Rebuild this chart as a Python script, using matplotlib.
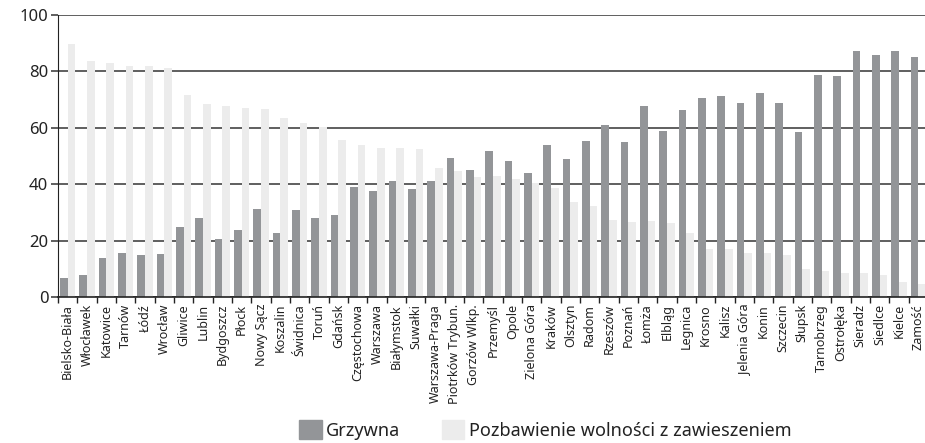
import numpy as np
import matplotlib.pyplot as plt
from matplotlib.patches import Patch

plt.rcParams['font.family'] = ['Noto Sans', 'DejaVu Sans']

# Data (percent)
cities = ['Bielsko-Biała', 'Włocławek', 'Katowice', 'Tarnów', 'Łódź', 'Wrocław',
          'Gliwice', 'Lublin', 'Bydgoszcz', 'Płock', 'Nowy Sącz', 'Koszalin',
          'Świdnica', 'Toruń', 'Gdańsk', 'Częstochowa', 'Warszawa', 'Białymstok',
          'Suwałki', 'Warszawa-Praga', 'Piotrków Trybun.', 'Gorzów Wlkp.',
          'Przemyśl', 'Opole', 'Zielona Góra', 'Kraków', 'Olsztyn', 'Radom',
          'Rzeszów', 'Poznań', 'Łomża', 'Elbląg', 'Legnica', 'Krosno', 'Kalisz',
          'Jelenia Góra', 'Konin', 'Szczecin', 'Słupsk', 'Tarnobrzeg', 'Ostrołęka',
          'Sieradz', 'Siedlce', 'Kielce', 'Zamość']
grzywna = [6.6, 7.7, 13.7, 15.5, 14.8, 15.1, 24.7, 27.9, 20.4, 23.6, 31.1, 22.6,
           30.7, 27.9, 29.0, 38.9, 37.5, 41.0, 38.2, 41.0, 49.2, 44.9, 51.7, 48.1,
           43.9, 53.8, 48.8, 55.2, 60.9, 54.8, 67.6, 58.7, 66.2, 70.4, 71.2, 68.7,
           72.2, 68.7, 58.4, 78.6, 78.3, 87.1, 85.7, 87.1, 85.0]
zawieszenie = [89.6, 83.6, 82.9, 81.8, 81.8, 81.1, 71.5, 68.3, 67.6, 66.9, 66.5, 63.4,
               61.6, 60.2, 55.6, 53.8, 52.7, 52.7, 52.4, 45.6, 44.6, 42.4, 42.8, 41.7,
               40.4, 38.5, 33.6, 32.2, 27.2, 26.5, 26.8, 26.1, 22.6, 16.9, 16.9, 15.5,
               15.5, 14.8, 9.8, 9.1, 8.4, 8.4, 7.7, 5.2, 4.5]
y_ticks = [0, 20, 40, 60, 80, 100]

dark = '#939598'
light = '#ececec'

fig = plt.figure(figsize=(9.25, 4.43), dpi=100)
ax = fig.add_axes([58 / 925, 146 / 443, 870 / 925, 282 / 443])

x = np.arange(len(cities))
w = 0.4
ax.bar(x - w / 2, grzywna, w, color=dark, zorder=2)
ax.bar(x + w / 2, zawieszenie, w, color=light, zorder=2)

ax.set_xlim(-0.5, len(cities) - 0.5)
ax.set_ylim(0, 100)
ax.set_yticks(y_ticks)
ax.yaxis.grid(True, color='#444444', linewidth=1.2)
ax.set_axisbelow(True)

# ticks at category boundaries, labels at centres
ax.set_xticks(np.arange(-0.5, len(cities), 1.0))
ax.set_xticklabels([])
ax.set_xticks(x, minor=True)
ax.set_xticklabels(cities, minor=True, rotation=90, fontsize=9, color='#222222')
ax.tick_params(axis='x', which='major', length=4, width=1, color='#222222')
ax.tick_params(axis='x', which='minor', length=0, pad=5)
ax.tick_params(axis='y', length=5, width=1.2, color='#444444', labelsize=12,
               labelcolor='#222222', pad=2)

for s in ['right', 'top']:
    ax.spines[s].set_visible(False)
ax.spines['left'].set_color('#222222')
ax.spines['bottom'].set_color('#222222')
ax.spines['bottom'].set_linewidth(1.2)

handles = [Patch(color=dark, label='Grzywna'),
           Patch(color=light, label='Pozbawienie wolności z zawieszeniem')]
fig.legend(handles=handles, loc='center left', bbox_to_anchor=(299 / 925, 13 / 443),
           ncol=2, frameon=False, fontsize=13, handlelength=1.25, handleheight=1.25,
           handletextpad=0.25, columnspacing=2.3, borderpad=0, borderaxespad=0,
           labelcolor='#222222')

fig.savefig('out.png', dpi=100)
